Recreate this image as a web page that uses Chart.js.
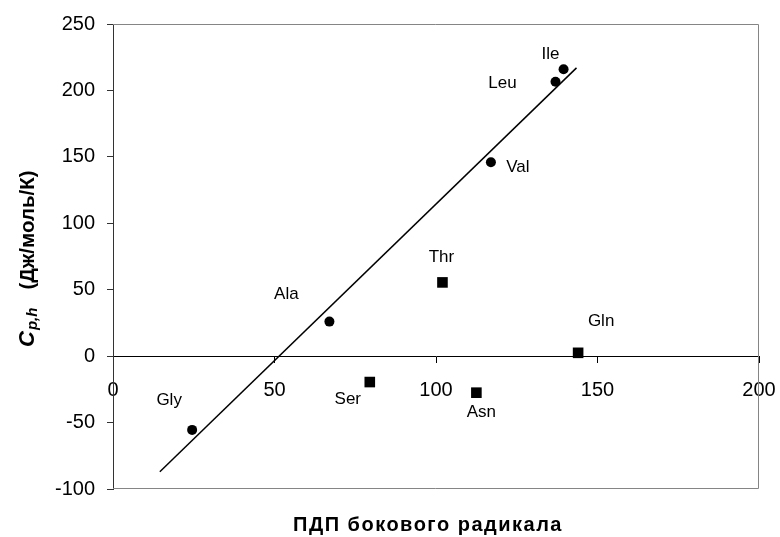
<!DOCTYPE html>
<html lang="ru">
<head>
<meta charset="UTF-8">
<title>Cp,h vs ПДП</title>
<script src="https://cdn.jsdelivr.net/npm/chart.js"></script>
<style>
  html, body { margin: 0; padding: 0; background: #fff; }
  canvas { display: block; }
</style>
</head>
<body>
<canvas id="chart" width="780" height="537"></canvas>
<script>
// hydrophobic residues (circles)
const circleNames = ['Gly', 'Ala', 'Val', 'Leu', 'Ile'];
const circleX = [24.5, 67, 117, 137, 139.5];
const circleY = [-55.5, 26, 146, 206.5, 216];

// polar residues (squares)
const squareNames = ['Ser', 'Thr', 'Asn', 'Gln'];
const squareX = [79.5, 102, 112.5, 144];
const squareY = [-19.5, 55.5, -27.5, 2.5];

// regression line through the hydrophobic set
const trendX = [14.5, 143.5];
const trendY = [-87, 217];

const xTicks = [0, 50, 100, 150, 200];
const yTicks = [-100, -50, 0, 50, 100, 150, 200, 250];

const FONT = "'Liberation Sans', Arial, sans-serif";

const toPoints = (xs, ys) => xs.map((x, i) => ({ x: x, y: ys[i] }));

// where each residue name sits relative to its marker, px
const labelOffset = {
    Gly: [-23, -30], Ala: [-43, -27], Val: [27, 5], Leu: [-53, 2], Ile: [-13, -15],
    Ser: [-22, 17], Thr: [-1, -25], Asn: [5, 20], Gln: [23, -32]
};

const decorations = {
    id: 'decorations',
    beforeDatasetsDraw(chart) {
        const { ctx, chartArea: a } = chart;
        ctx.save();
        // grey frame on top, right and bottom
        ctx.strokeStyle = '#858585';
        ctx.lineWidth = 1;
        ctx.beginPath();
        ctx.moveTo(a.left, a.top + 0.5);
        ctx.lineTo(a.right - 0.5, a.top + 0.5);
        ctx.lineTo(a.right - 0.5, a.bottom - 0.5);
        ctx.lineTo(a.left, a.bottom - 0.5);
        ctx.stroke();
        ctx.restore();
    },
    afterDatasetsDraw(chart) {
        const { ctx } = chart;
        ctx.save();
        ctx.fillStyle = '#000';
        ctx.font = '17px ' + FONT;
        ctx.textAlign = 'center';
        ctx.textBaseline = 'middle';
        [[0, circleNames], [1, squareNames]].forEach(([di, names]) => {
            chart.getDatasetMeta(di).data.forEach((pt, i) => {
                const off = labelOffset[names[i]];
                ctx.fillText(names[i], pt.x + off[0], pt.y + off[1]);
            });
        });

        // x axis title
        ctx.font = 'bold 20px ' + FONT;
        ctx.letterSpacing = '1.5px';
        ctx.textBaseline = 'alphabetic';
        ctx.fillText('ПДП бокового радикала', 428, 531);
        ctx.letterSpacing = '0px';

        // y axis title, rotated, with subscript
        ctx.translate(34, 347);
        ctx.rotate(-Math.PI / 2);
        ctx.textAlign = 'left';
        let x = 0;
        ctx.font = 'italic bold 22px ' + FONT;
        ctx.fillText('C', x, 0);
        x += ctx.measureText('C').width + 1;
        ctx.font = 'italic bold 15px ' + FONT;
        ctx.fillText('p,h', x, 3);
        x += ctx.measureText('p,h').width + 18;
        ctx.font = 'bold 20.5px ' + FONT;
        ctx.fillText('(Дж/моль/К)', x, 0);
        ctx.restore();
    }
};

new Chart(document.getElementById('chart'), {
    type: 'scatter',
    data: {
        datasets: [
            {
                data: toPoints(circleX, circleY),
                pointStyle: 'circle',
                pointRadius: 5,
                backgroundColor: '#000',
                borderColor: '#000',
                borderWidth: 0
            },
            {
                data: toPoints(squareX, squareY),
                pointStyle: 'rect',
                pointRadius: 7.5,
                backgroundColor: '#000',
                borderColor: '#000',
                borderWidth: 0
            },
            {
                data: toPoints(trendX, trendY),
                showLine: true,
                pointRadius: 0,
                borderColor: '#000',
                borderWidth: 1.5
            }
        ]
    },
    options: {
        responsive: false,
        animation: false,
        events: [],
        layout: { padding: { top: 23, right: 21, bottom: 48, left: 0 } },
        plugins: {
            legend: { display: false },
            tooltip: { enabled: false }
        },
        scales: {
            x: {
                type: 'linear',
                position: { y: 0 },
                min: xTicks[0],
                max: xTicks[xTicks.length - 1],
                afterBuildTicks: s => { s.ticks = xTicks.map(v => ({ value: v })); },
                // edge labels may hang outside the plot; don't let them shrink it
                afterFit: s => { s.paddingLeft = 0; s.paddingRight = 0; },
                border: { color: '#000', width: 1 },
                grid: { drawOnChartArea: false, drawTicks: true, tickLength: 6, color: '#000' },
                ticks: {
                    color: '#000',
                    font: { family: FONT, size: 20 },
                    padding: 16,
                    maxRotation: 0,
                    autoSkip: false
                }
            },
            y: {
                type: 'linear',
                position: 'left',
                min: yTicks[0],
                max: yTicks[yTicks.length - 1],
                afterBuildTicks: s => { s.ticks = yTicks.map(v => ({ value: v })); },
                afterFit: s => { s.width = 113; },
                border: { color: '#333', width: 1 },
                grid: { drawOnChartArea: false, drawTicks: true, tickLength: 6, color: '#333' },
                ticks: {
                    color: '#000',
                    font: { family: FONT, size: 20 },
                    padding: 12,
                    autoSkip: false
                }
            }
        }
    },
    plugins: [decorations]
});
</script>
</body>
</html>
